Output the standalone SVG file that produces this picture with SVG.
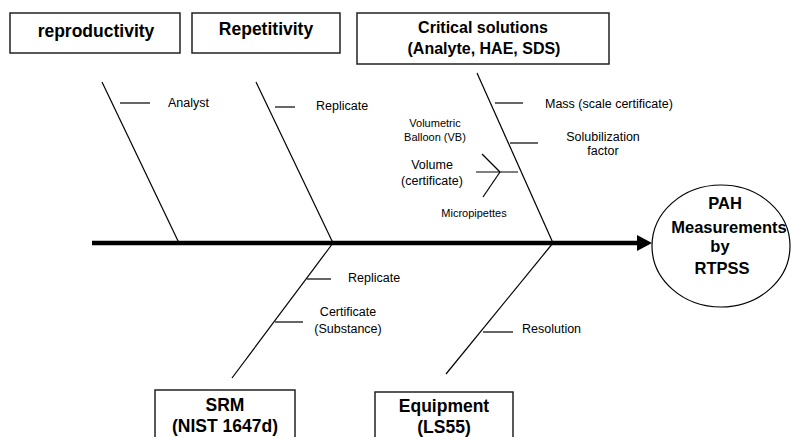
<svg xmlns="http://www.w3.org/2000/svg" width="791" height="437" viewBox="0 0 791 437">
<style>
.box{fill:#fff;stroke:#222;stroke-width:1.5}
.bone{stroke:#000;stroke-width:1.2;fill:none}
.sub{stroke:#000;stroke-width:1.2;fill:none}
.h{font-family:"Liberation Sans",Arial,sans-serif;font-weight:bold;font-size:17.5px;fill:#000;text-anchor:middle}
.h2{font-family:"Liberation Sans",Arial,sans-serif;font-weight:bold;font-size:16px;fill:#000;text-anchor:middle}
.c{font-family:"Liberation Sans",Arial,sans-serif;font-weight:bold;font-size:16.5px;fill:#000;text-anchor:middle}
.t{font-family:"Liberation Sans",Arial,sans-serif;font-size:12.5px;fill:#000}
.s{font-family:"Liberation Sans",Arial,sans-serif;font-size:11px;fill:#000;text-anchor:middle}
</style>
<rect width="791" height="437" fill="#fff"/>
<g id="connectors">
<line x1="92" y1="243" x2="640" y2="243" stroke="#000" stroke-width="4.5"/>
<polygon points="637,235 652,243 637,251" fill="#000"/>
<line class="bone" x1="102" y1="82" x2="179" y2="243"/>
<line class="bone" x1="256" y1="82" x2="333" y2="243"/>
<line class="bone" x1="477" y1="73" x2="553" y2="243"/>
<line class="bone" x1="232" y1="378" x2="333" y2="243"/>
<line class="bone" x1="446" y1="374" x2="553" y2="243"/>
<line class="sub" x1="120" y1="103" x2="150" y2="103"/>
<line class="sub" x1="275" y1="107" x2="295" y2="107"/>
<line class="sub" x1="495" y1="103" x2="523" y2="103"/>
<line class="sub" x1="510" y1="143" x2="538" y2="143"/>
<line class="sub" x1="476" y1="172" x2="518" y2="172"/>
<line class="sub" x1="482" y1="154" x2="500" y2="172"/>
<line class="sub" x1="500" y1="172" x2="483" y2="197"/>
<line class="sub" x1="307" y1="279" x2="331" y2="279"/>
<line class="sub" x1="275" y1="322" x2="303" y2="322"/>
<line class="sub" x1="483" y1="332" x2="513" y2="332"/>
</g>
<g id="reproductivity">
<rect class="box" x="10" y="13" width="170" height="40"/>
<text class="h" x="96" y="37">reproductivity</text>
</g>
<g id="repetitivity">
<rect class="box" x="192" y="13" width="148" height="40"/>
<text class="h" x="266" y="35">Repetitivity</text>
</g>
<g id="critical">
<rect class="box" x="357" y="13" width="252" height="51"/>
<text class="h2" x="483" y="33">Critical solutions</text>
<text class="h2" x="484" y="54">(Analyte, HAE, SDS)</text>
</g>
<g id="srm">
<rect class="box" x="155" y="390" width="140" height="60"/>
<text class="h" x="225" y="411">SRM</text>
<text class="h" x="225" y="432">(NIST 1647d)</text>
</g>
<g id="equipment">
<rect class="box" x="375" y="392" width="138" height="60"/>
<text class="h" x="444" y="412">Equipment</text>
<text class="h" x="444" y="433">(LS55)</text>
</g>
<g id="pah">
<ellipse cx="721" cy="246" rx="69" ry="61" fill="#fff" stroke="#000" stroke-width="1.2"/>
<text class="c" x="725" y="209">PAH</text>
<text class="c" x="729" y="233">Measurements</text>
<text class="c" x="720" y="252">by</text>
<text class="c" x="722" y="274">RTPSS</text>
</g>
<g id="labels">
<text class="t" x="168" y="107">Analyst</text>
<text class="t" x="316" y="110">Replicate</text>
<text class="t" x="545" y="108">Mass (scale certificate)</text>
<text class="t" x="603" y="141" text-anchor="middle">Solubilization</text>
<text class="t" x="603" y="155" text-anchor="middle">factor</text>
<text class="t" x="432" y="169" text-anchor="middle" font-size="13">Volume</text>
<text class="t" x="432" y="185" text-anchor="middle" font-size="13">(certificate)</text>
<text class="s" x="435" y="127">Volumetric</text>
<text class="s" x="435" y="141">Balloon (VB)</text>
<text class="s" x="474" y="217">Micropipettes</text>
<text class="t" x="348" y="282">Replicate</text>
<text class="t" x="348" y="316" text-anchor="middle">Certificate</text>
<text class="t" x="348" y="333" text-anchor="middle">(Substance)</text>
<text class="t" x="522" y="333">Resolution</text>
</g>
</svg>
